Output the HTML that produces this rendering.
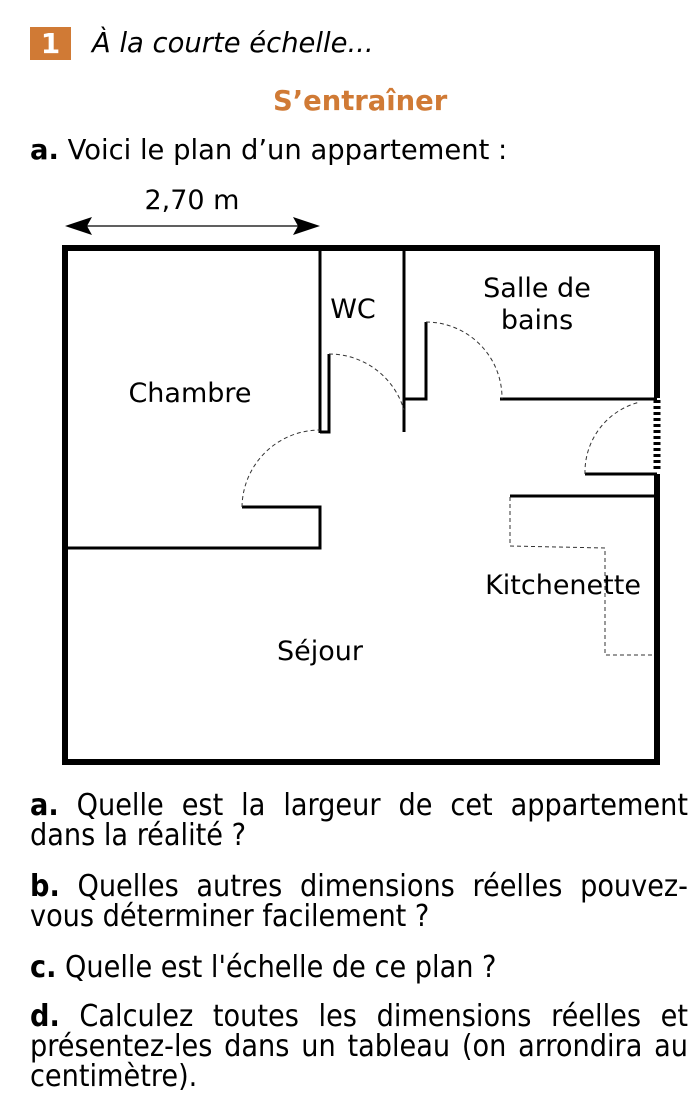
<!DOCTYPE html>
<html><head><meta charset="utf-8">
<style>
html,body{margin:0;padding:0;background:#fff;}
body{width:700px;height:1108px;position:relative;overflow:hidden;font-family:"DejaVu Sans","Liberation Sans",sans-serif;color:#000;}
.t{position:absolute;white-space:nowrap;font-size:27.4px;line-height:30px;}
.c{font-family:"DejaVu Sans Condensed","DejaVu Sans",sans-serif;font-stretch:condensed;font-size:30.2px;}
.j{left:30px;width:658px;text-align:justify;text-align-last:justify;white-space:normal;}
b{font-weight:bold;}
svg{position:absolute;left:0;top:0;}
</style></head><body>
<div style="position:absolute;left:30px;top:27px;width:41px;height:33px;background:#d07a35;color:#fff;font-weight:bold;font-size:28px;line-height:33px;text-align:center;">1</div>
<div class="t" style="left:92px;top:29px;font-style:italic;">À la courte échelle...</div>
<div class="t" style="left:273px;top:87px;font-weight:bold;color:#d07a35;">S’entraîner</div>
<div class="t" style="left:30px;top:136px;"><b>a.</b> Voici le plan d’un appartement :</div>

<svg width="700" height="1108" viewBox="0 0 700 1108">
<g fill="none" stroke="#000">
<line x1="80" y1="226" x2="305" y2="226" stroke-width="1.2"/>
<path d="M65 226 L92 217 L87 226 L92 235 Z" fill="#000" stroke="none"/>
<path d="M320 226 L293 217 L298 226 L293 235 Z" fill="#000" stroke="none"/>
<path d="M657 398 L657 248 L65 248 L65 762 L657 762 L657 474" stroke-width="6"/>
<line x1="657" y1="400" x2="657" y2="472" stroke-width="7" stroke-dasharray="3,3"/>
<g stroke-width="3">
<line x1="320" y1="250" x2="320" y2="433"/>
<path d="M320 432 L329 432 L329 354"/>
<line x1="404" y1="250" x2="404" y2="432"/>
<path d="M404 399 L426 399 L426 322"/>
<line x1="500" y1="399" x2="657" y2="399"/>
<path d="M242 507 L320 507 L320 548 L65 548"/>
<line x1="585" y1="474" x2="657" y2="474"/>
<line x1="510" y1="496" x2="657" y2="496"/>
</g>
<g stroke-width="1" stroke-dasharray="4,3" stroke="#333">
<path d="M329 354 A78 78 0 0 1 404 410"/>
<path d="M426 322 A76 76 0 0 1 502 399"/>
<path d="M242 507 A78 78 0 0 1 320 430"/>
<path d="M585 474 A72 72 0 0 1 640 402"/>
<path d="M510 497 L510 546 L605 548 L605 655 L655 655"/>
</g>
</g>
<g font-family="DejaVu Sans, Liberation Sans, sans-serif" font-size="27" fill="#000" text-anchor="middle">
<text x="192" y="209">2,70 m</text>
<text x="353" y="318">WC</text>
<text x="537" y="297">Salle de</text>
<text x="537" y="329">bains</text>
<text x="190" y="402">Chambre</text>
<text x="563" y="594">Kitchenette</text>
<text x="320" y="660">Séjour</text>
</g>
</svg>

<div class="t c j" style="top:791px;"><b>a.</b> Quelle est la largeur de cet appartement</div>
<div class="t c" style="left:30px;top:821px;">dans la réalité ?</div>
<div class="t c j" style="top:872px;"><b>b.</b> Quelles autres dimensions réelles pouvez-</div>
<div class="t c" style="left:30px;top:902px;">vous déterminer facilement ?</div>
<div class="t c" style="left:30px;top:953px;"><b>c.</b> Quelle est l'échelle de ce plan ?</div>
<div class="t c j" style="top:1002px;"><b>d.</b> Calculez toutes les dimensions réelles et</div>
<div class="t c j" style="top:1032px;">présentez-les dans un tableau (on arrondira au</div>
<div class="t c" style="left:30px;top:1062px;">centimètre).</div>
</body></html>
